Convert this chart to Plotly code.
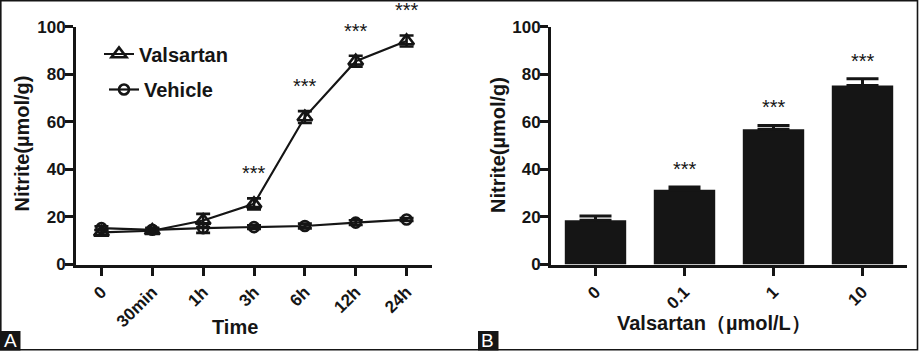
import plotly.graph_objects as go

# ---------------- data ----------------
time_labels = ["0", "30min", "1h", "3h", "6h", "12h", "24h"]
valsartan_mean = [13.5, 14.2, 18.5, 25.5, 62.0, 85.5, 94.0]
valsartan_err = [1.0, 1.0, 2.8, 2.3, 2.5, 2.3, 2.3]
vehicle_mean = [15.3, 14.6, 15.3, 15.7, 16.2, 17.6, 18.9]
vehicle_err = [0.8, 0.8, 2.0, 0.8, 1.0, 1.0, 0.6]
sig_time = ["3h", "6h", "12h", "24h"]

dose_labels = ["0", "0.1", "1", "10"]
dose_mean = [18.6, 31.4, 56.9, 75.3]
dose_err = [1.8, 1.2, 1.6, 2.8]
sig_dose = ["0.1", "1", "10"]

W, H = 919, 351
FONT = "Liberation Sans, Arial, sans-serif"
INK = "#151515"


def px_x(p):
    return p / W


def px_y(p):
    return 1 - p / H


fig = go.Figure()

# Panel A lines
fig.add_trace(go.Scatter(
    x=time_labels, y=valsartan_mean, name="Valsartan", mode="lines+markers",
    line=dict(color=INK, width=2.2),
    marker=dict(symbol="triangle-up-open", size=13, color=INK, line=dict(width=2.6, color=INK)),
    error_y=dict(type="data", array=valsartan_err, visible=True, color=INK, thickness=2.6, width=7),
    xaxis="x", yaxis="y", legend="legend",
))
fig.add_trace(go.Scatter(
    x=time_labels, y=vehicle_mean, name="Vehicle", mode="lines+markers",
    line=dict(color=INK, width=2.2),
    marker=dict(symbol="circle-open", size=10, color=INK, line=dict(width=2.6, color=INK)),
    error_y=dict(type="data", array=vehicle_err, visible=True, color=INK, thickness=2.6, width=7),
    xaxis="x", yaxis="y", legend="legend2",
))

# Panel B bars
fig.add_trace(go.Bar(
    x=dose_labels, y=dose_mean, width=0.69, marker=dict(color=INK, line=dict(width=0)),
    error_y=dict(type="data", array=dose_err, arrayminus=[0] * len(dose_err), symmetric=False,
                 visible=True, color=INK, thickness=3, width=16),
    xaxis="x2", yaxis="y2", showlegend=False,
))

ydom = [px_y(264.5), px_y(26.7)]
axis_common = dict(
    showline=True, linecolor=INK, linewidth=3, ticks="outside", ticklen=8, tickwidth=2.5,
    tickcolor=INK, showgrid=False, zeroline=False, automargin=False,
)
tick_font = dict(family=FONT, size=17, color=INK, weight="bold")

fig.update_layout(
    width=W, height=H,
    margin=dict(l=0, r=0, t=0, b=0),
    paper_bgcolor="white", plot_bgcolor="white",
    xaxis=dict(domain=[px_x(76), px_x(432)], type="category", range=[-0.5, 6.5],
               tickangle=-45, anchor="y", tickfont=tick_font, **axis_common),
    yaxis=dict(domain=ydom, range=[0, 100], tickvals=[0, 20, 40, 60, 80, 100],
               anchor="x", tickfont=tick_font, ticklabelstandoff=-4, **axis_common),
    xaxis2=dict(domain=[px_x(551), px_x(907)], type="category", range=[-0.5, 3.5],
                tickangle=-45, anchor="y2", tickfont=tick_font, **axis_common),
    yaxis2=dict(domain=ydom, range=[0, 100], tickvals=[0, 20, 40, 60, 80, 100],
                anchor="x2", tickfont=tick_font, ticklabelstandoff=-4, **axis_common),
    legend=dict(x=px_x(99), y=px_y(54), xanchor="left", yanchor="middle",
                bgcolor="rgba(0,0,0,0)", itemwidth=30,
                font=dict(family=FONT, size=20, color=INK, weight="bold")),
    legend2=dict(x=px_x(104), y=px_y(89.5), xanchor="left", yanchor="middle",
                 bgcolor="rgba(0,0,0,0)", itemwidth=30,
                 font=dict(family=FONT, size=20, color=INK, weight="bold")),
    showlegend=True,
)

tfont = dict(family=FONT, size=20, color=INK, weight="bold")
ann = []
# axis titles
ann.append(dict(text="Nitrite(µmol/g)", x=px_x(21.5), y=px_y(144), xref="paper", yref="paper",
                textangle=-90, showarrow=False, font=tfont, xanchor="center", yanchor="middle"))
ann.append(dict(text="Nitrite(µmol/g)", x=px_x(498), y=px_y(145), xref="paper", yref="paper",
                textangle=-90, showarrow=False, font=tfont, xanchor="center", yanchor="middle"))
ann.append(dict(text="Time", x=px_x(235), y=px_y(327), xref="paper", yref="paper",
                showarrow=False, font=tfont, xanchor="center", yanchor="middle"))
ann.append(dict(text="Valsartan（µmol/L）", x=px_x(714), y=px_y(323), xref="paper", yref="paper",
                showarrow=False, font=tfont, xanchor="center", yanchor="middle"))

# significance stars (category index positions)
for lab in sig_time:
    i = time_labels.index(lab)
    ann.append(dict(text="***", x=i, y=valsartan_mean[i] + valsartan_err[i], xref="x", yref="y",
                    yanchor="bottom", yshift=12, showarrow=False,
                    font=dict(family=FONT, size=20, color=INK)))
for lab in sig_dose:
    i = dose_labels.index(lab)
    ann.append(dict(text="***", x=i, y=dose_mean[i] + dose_err[i], xref="x2", yref="y2",
                    yanchor="bottom", yshift=5, showarrow=False,
                    font=dict(family=FONT, size=20, color=INK)))

# panel letters
ann.append(dict(text="A", x=px_x(10), y=px_y(340.5), xref="paper", yref="paper", showarrow=False,
                font=dict(family=FONT, size=19, color="white"), xanchor="center", yanchor="middle"))
ann.append(dict(text="B", x=px_x(488), y=px_y(340.5), xref="paper", yref="paper", showarrow=False,
                font=dict(family=FONT, size=19, color="white"), xanchor="center", yanchor="middle"))
fig.update_layout(annotations=ann)

shapes = [
    dict(type="rect", xref="paper", yref="paper", x0=px_x(0.8), x1=px_x(917.5), y0=px_y(349.8), y1=px_y(0.8),
         line=dict(color=INK, width=1.6), fillcolor="rgba(0,0,0,0)", layer="below"),
    dict(type="rect", xref="paper", yref="paper", x0=px_x(0), x1=px_x(20.5), y0=px_y(350.5), y1=px_y(331),
         line=dict(width=0), fillcolor=INK, layer="below"),
    dict(type="rect", xref="paper", yref="paper", x0=px_x(478), x1=px_x(498.5), y0=px_y(350.5), y1=px_y(331),
         line=dict(width=0), fillcolor=INK, layer="below"),
]
fig.update_layout(shapes=shapes)

fig.write_html("out.html")
